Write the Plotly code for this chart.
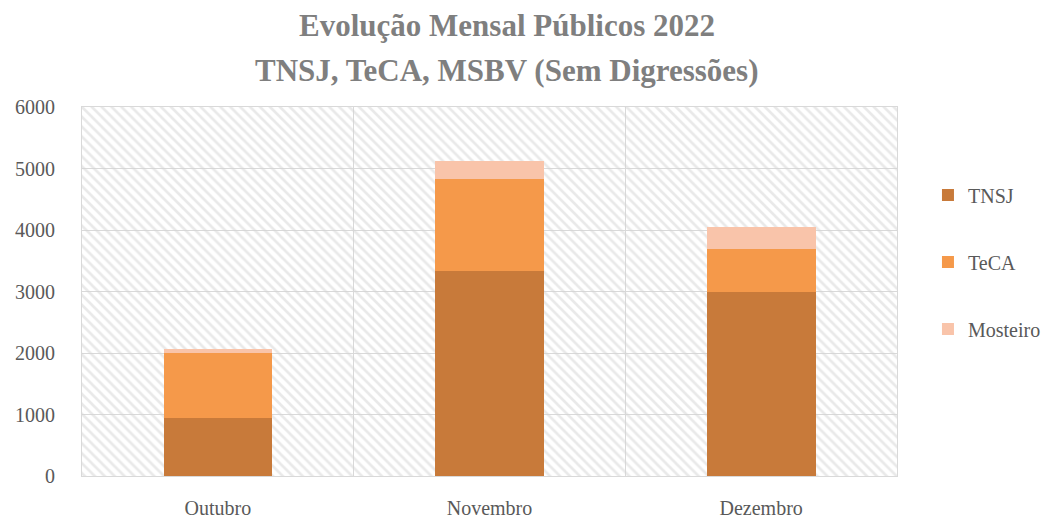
import plotly.graph_objects as go

categories = ["Outubro", "Novembro", "Dezembro"]
tnsj = [950, 3340, 2995]
teca = [1050, 1490, 695]
mosteiro = [65, 290, 365]

y_max = 6000
y_dtick = 1000

colors = {"TNSJ": "#C87A3A", "TeCA": "#F5994A", "Mosteiro": "#F9C4AA"}
FONT = "Liberation Serif"
TXT = "#595959"
GRID = "#d9d9d9"

W, H = 1052, 520
ML, MR, MT, MB = 82, 155, 107, 44

fig = go.Figure()

# hatched plot background (on base axis)
fig.add_trace(go.Bar(
    x=[1], y=[y_max], width=[3], xaxis="x", yaxis="y",
    marker=dict(color="rgba(0,0,0,0)", line=dict(width=0),
                pattern=dict(shape="\\", fgcolor="#d4d4d4", bgcolor="rgba(0,0,0,0)",
                             size=7, solidity=0.38)),
    showlegend=False, hoverinfo="skip"))

for name, vals in [("TNSJ", tnsj), ("TeCA", teca), ("Mosteiro", mosteiro)]:
    fig.add_trace(go.Bar(
        x=categories, y=vals, name=name, xaxis="x2", yaxis="y",
        width=0.4, legendgroup=name,
        marker=dict(color=colors[name], line=dict(width=0))))

pw = W - ML - MR
ph = H - MT - MB

fig.update_layout(
    width=W, height=H,
    barmode="stack",
    paper_bgcolor="white", plot_bgcolor="white",
    margin=dict(l=ML, r=MR, t=MT, b=MB, autoexpand=False),
    font=dict(family=FONT, color=TXT, size=20),
    title=dict(text="<b>Evolução Mensal Públicos 2022</b>", x=507 / W, xref="container",
               xanchor="center", y=1 - 25 / H, yref="container", yanchor="middle",
               font=dict(family=FONT, size=31, color="#7f7f7f")),
    annotations=[dict(text="<b>TNSJ, TeCA, MSBV (Sem Digressões)</b>",
                      x=(507 - ML) / pw, xref="paper", xanchor="center",
                      y=(H - 70 - MB) / ph, yref="paper", yanchor="middle",
                      showarrow=False,
                      font=dict(family=FONT, size=31, color="#7f7f7f"))],
    xaxis=dict(range=[-0.5, 2.5], tickvals=[0.5, 1.5], showticklabels=False,
               showgrid=True, gridcolor=GRID, gridwidth=1, zeroline=False,
               showline=True, mirror=True, linecolor=GRID, linewidth=1,
               fixedrange=True),
    xaxis2=dict(overlaying="x", type="category", range=[-0.5, 2.5], side="bottom",
                showgrid=False, zeroline=False, showline=False,
                ticklabelstandoff=18,
                tickfont=dict(family=FONT, size=20, color=TXT), ticks=""),
    yaxis=dict(range=[0, y_max], dtick=y_dtick, showgrid=True, gridcolor=GRID,
               gridwidth=1, zeroline=False, showline=True, mirror=True,
               linecolor=GRID, ticklabelstandoff=22,
               tickfont=dict(family=FONT, size=20, color=TXT)),
    legend=dict(x=1.038, xanchor="left", y=(H - 262 - MB) / ph, yanchor="middle",
                traceorder="grouped", tracegroupgap=38,
                font=dict(family=FONT, size=20, color=TXT),
                itemwidth=30),
    bargap=0,
)

fig.write_html("out.html", config={"displayModeBar": False},
               post_script="document.body.style.margin='0';document.body.style.padding='0';")
